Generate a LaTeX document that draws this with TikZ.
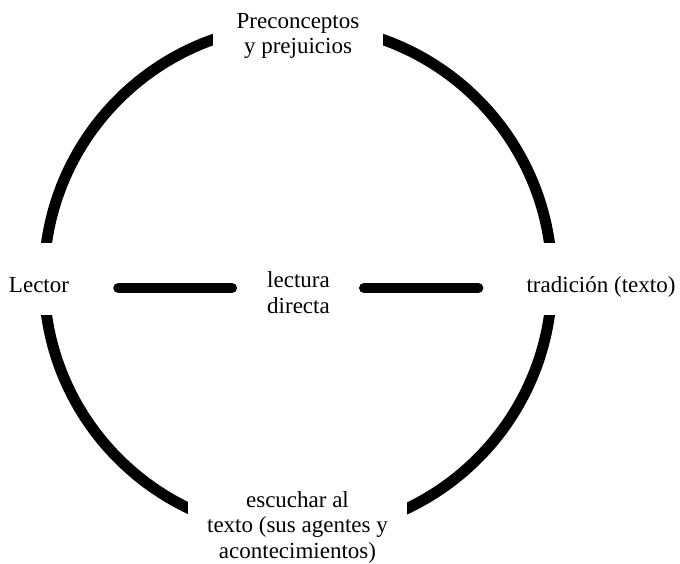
\documentclass[tikz,border=0pt]{standalone}
\usepackage{fontspec}
\setmainfont{Liberation Serif}

\begin{document}
\begin{tikzpicture}[x=1pt,y=-1pt,
    ring/.style={line width=11pt},
    bar/.style={line width=10pt,line cap=round},
    gap/.style={fill=white,inner sep=0pt,align=center,
      font=\fontsize{23}{25.5}\selectfont},
    side/.style={gap,anchor=base,text height=49pt,text depth=23pt}]
  \useasboundingbox (0,0) rectangle (680,564);
  \coordinate (centro) at (298,279);
  \coordinate (eje) at (298,288);
  \draw[ring] (centro) circle (254);
  \node[side] (lector) at (39,292) {Lector};
  \node[side] (tradicion) at (601,292) {tradición (texto)};
  \node[gap,minimum width=170pt] (preconceptos) at (298,36) {Preconceptos\\y prejuicios};
  \node[gap,minimum width=219pt] (escuchar) at (297.5,527) {escuchar al\\texto (sus agentes y\\acontecimientos)};
  \node[gap] (lectura) at (298.5,292.6) {lectura\\directa};
  \draw[bar,shorten <=49pt,shorten >=35pt] (lector.east |- eje) -- (lectura.west |- eje);
  \draw[bar,shorten <=34pt,shorten >=48pt] (lectura.east |- eje) -- (tradicion.west |- eje);
\end{tikzpicture}
\end{document}
